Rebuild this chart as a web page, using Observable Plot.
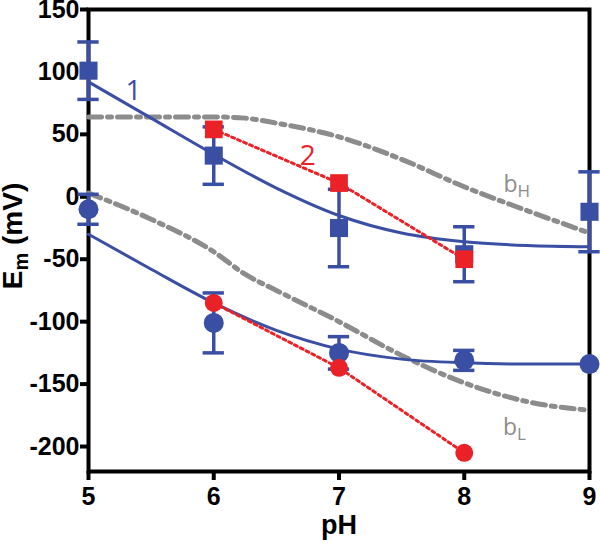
<!DOCTYPE html>
<html><head><meta charset="utf-8">
<script src="https://cdn.jsdelivr.net/npm/d3@7"></script>
<script src="https://cdn.jsdelivr.net/npm/@observablehq/plot@0.6"></script>
<style>body{margin:0;background:#fff}</style>
</head><body><div id="chart"></div>
<script>
// ---- data ----
const pH = [5, 6, 7, 8, 9];
const highBlue = [101, 33, -25, -46, -12];
const highBlueErr = [23, 23, 31, 22, 32];
const lowBlue = [-10, -101, -125, -131, -134];
const lowBlueErr = [12, 24, 13, 8, 0];
const redPH = [6, 7, 8];
const highRed = [54, 11, -50];
const lowRed = [-85, -137, -205];
const fitPH = [5, 5.5, 6, 6.5, 7, 7.5, 8, 8.5, 9];
const fitHigh = [92, 63, 34, 7, -15, -29, -36, -39, -40];
const fitLow = [-30, -58, -85, -107, -122, -130, -133, -134, -134];
const bPH = [5, 5.5, 6, 6.25, 6.5, 7, 7.5, 8, 8.5, 9];
const bHigh = [64, 64, 64, 63, 59, 48, 30, 8, -11, -29];
const bLow = [3, -18, -44, -62, -75, -100, -127, -149, -164, -171];
const xTicks = [5, 6, 7, 8, 9];
const yTicks = [-200, -150, -100, -50, 0, 50, 100, 150];
const labelText = ["1", "2", "bH", "bL"];
const labelPH = [5.36, 6.75, 8.42, 8.40];
const labelEm = [85, 33, 10, -185];

const blue = "#3a4ea4", red = "#ea2228", gray = "#8c8c8c";

const rows = (xs, ys, es) => xs.map((x, i) => ({x, y: ys[i], e: es ? es[i] : 0}));
const hb = rows(pH, highBlue, highBlueErr);
const lb = rows(pH, lowBlue, lowBlueErr);
const errs = hb.concat(lb).filter(d => d.e > 0);
const caps = errs.flatMap(d => [{x: d.x, v: d.y + d.e}, {x: d.x, v: d.y - d.e}]);
const hr = rows(redPH, highRed);
const lr = rows(redPH, lowRed);
const fh = rows(fitPH, fitHigh);
const fl = rows(fitPH, fitLow);
const gh = rows(bPH, bHigh);
const gl = rows(bPH, bLow);
const labels = labelText.map((t, i) => ({t, x: labelPH[i], y: labelEm[i]}));

const plot = Plot.plot({
  width: 600, height: 543,
  marginLeft: 88, marginRight: 11, marginTop: 9, marginBottom: 72,
  x: {domain: [5, 9]},
  y: {domain: [-220, 150]},
  style: {fontFamily: "'Liberation Sans', Arial, sans-serif", background: "white", overflow: "visible", color: "black"},
  marks: [
    Plot.axisY({ticks: yTicks, tickSize: 8, tickPadding: 1, strokeWidth: 4, fontSize: 25, fontWeight: "bold", tickFormat: d => String(d), label: null}),
    Plot.axisX({ticks: xTicks, tickSize: 9, tickPadding: 7, strokeWidth: 4, fontSize: 25, fontWeight: "bold", tickFormat: d => String(d), label: null}),
    Plot.frame({stroke: "black", strokeWidth: 4}),
    Plot.line(gh, {x: "x", y: "y", stroke: gray, strokeWidth: 5, strokeDasharray: "13,6,4,6", curve: "monotone-x"}),
    Plot.line(gl, {x: "x", y: "y", stroke: gray, strokeWidth: 5, strokeDasharray: "13,6,4,6", curve: "monotone-x"}),
    Plot.line(fh, {x: "x", y: "y", stroke: blue, strokeWidth: 3, curve: "monotone-x"}),
    Plot.line(fl, {x: "x", y: "y", stroke: blue, strokeWidth: 3, curve: "monotone-x"}),
    Plot.ruleX(errs, {x: "x", y1: d => d.y - d.e, y2: d => d.y + d.e, stroke: blue, strokeWidth: 3.5}),
    Plot.ruleY(caps, {y: "v", x1: d => d.x - 0.085, x2: d => d.x + 0.085, stroke: blue, strokeWidth: 3.5}),
    Plot.dot(hb, {x: "x", y: "y", symbol: "square", r: 10.2, fill: blue}),
    Plot.dot(lb, {x: "x", y: "y", symbol: "circle", r: 10, fill: blue}),
    Plot.line(hr, {x: "x", y: "y", stroke: red, strokeWidth: 3, strokeDasharray: "3,3.5"}),
    Plot.line(lr, {x: "x", y: "y", stroke: red, strokeWidth: 3, strokeDasharray: "3,3.5"}),
    Plot.dot(hr, {x: "x", y: "y", symbol: "square", r: 10, fill: red}),
    Plot.dot(lr, {x: "x", y: "y", symbol: "circle", r: 9, fill: red}),
    Plot.text(labels, {x: "x", y: "y", text: "t", fontSize: d => d.t.length > 1 ? 23 : 28,
      fill: d => d.t === "1" ? blue : d.t === "2" ? red : gray, fontFamily: "'Open Sans', sans-serif"})
  ]
});
document.getElementById("chart").append(plot);

// subscripts on the curve labels
d3.select(plot).selectAll("text").each(function () {
  const t = d3.select(this);
  const s = this.textContent;
  if (s === "bH" || s === "bL") {
    t.text("b");
    t.append("tspan").attr("dy", "0.3em").attr("font-size", "17px").text(s[1]);
  }
});

// axis titles
const svg = d3.select(plot);
svg.append("text")
  .attr("x", 339).attr("y", 534)
  .attr("text-anchor", "middle")
  .attr("font-size", 27).attr("font-weight", "bold").attr("fill", "black")
  .text("pH");
const yl = svg.append("text")
  .attr("transform", "translate(22,236) rotate(-90)")
  .attr("text-anchor", "middle")
  .attr("font-size", 28).attr("font-weight", "bold").attr("fill", "black");
yl.append("tspan").text("E");
yl.append("tspan").attr("dy", "0.3em").attr("font-size", "20px").text("m");
yl.append("tspan").attr("dy", "-0.21em").text("\u00a0(mV)");
</script>
</body></html>
